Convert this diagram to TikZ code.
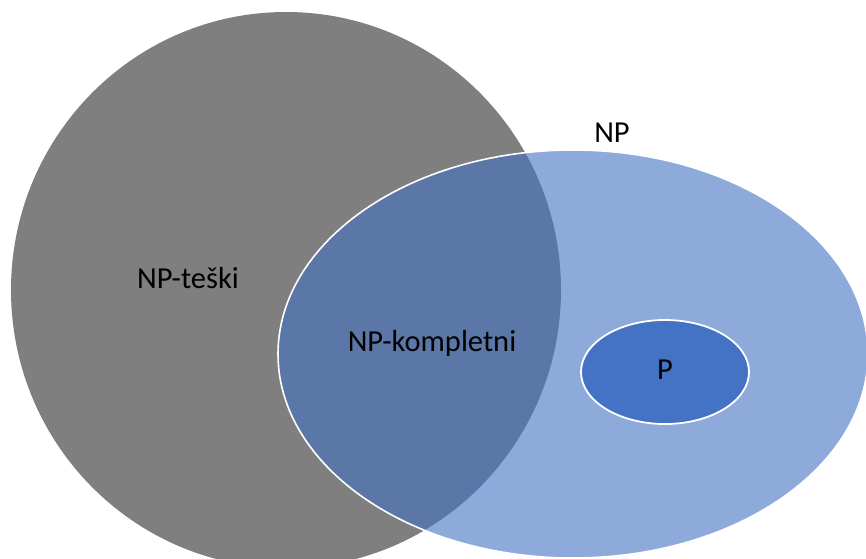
\documentclass[tikz,border=0pt]{standalone}
\usepackage{fontspec}
\setmainfont{Carlito}
\usetikzlibrary{shapes.geometric}

\definecolor{hardgray}{HTML}{7F7F7F}
\definecolor{npblue}{HTML}{4472C4}

\begin{document}
\begin{tikzpicture}[x=1pt, y=-1pt,
    set/.style = {ellipse, inner sep=0pt},
    lbl/.style = {font=\fontsize{30.5}{36}\selectfont, text=black}]
    \clip (0,0) rectangle (866,558);
    \fill[white] (0,0) rectangle (866,558);
    \node[set, fill=hardgray, minimum width=550pt, minimum height=556pt] (hard) at (286,290) {};
    \node[set, fill=npblue, fill opacity=0.6, draw=white, line width=1.6pt,
          minimum width=590pt, minimum height=408pt] (np) at (573,354) {};
    \node[set, fill=npblue, draw=white, line width=1.8pt,
          minimum width=168pt, minimum height=104pt] (p) at (665,372) {};
    \node[lbl] (hardlbl) at (188,278) {NP-teški};
    \node[lbl] (complbl) at (432,343) {NP-kompletni};
    \node[lbl] (nplbl) at (612,133) {NP};
    \node[lbl] (plbl) at (665,370) {P};
\end{tikzpicture}
\end{document}
